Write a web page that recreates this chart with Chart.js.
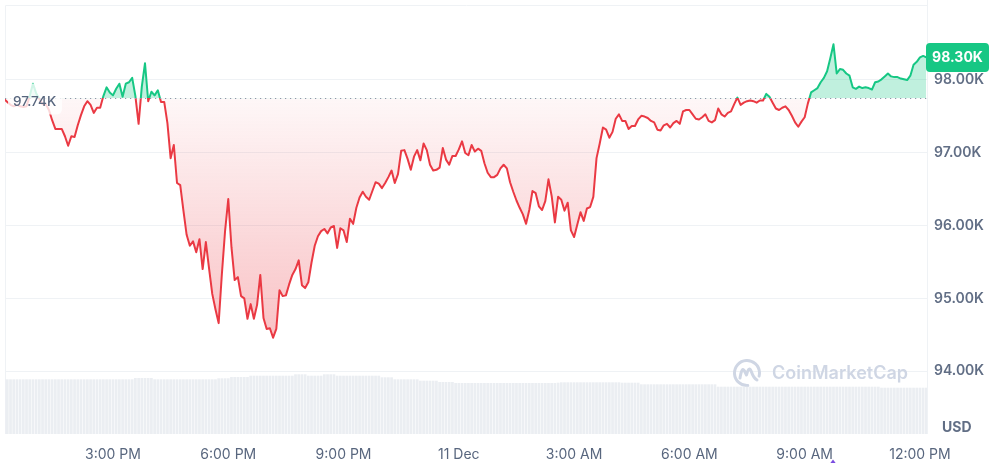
<!DOCTYPE html>
<html><head><meta charset="utf-8">
<script src="https://cdn.jsdelivr.net/npm/chart.js@4.4.1/dist/chart.umd.min.js"></script>
<style>html,body{margin:0;padding:0;background:#fff;overflow:hidden}canvas{display:block}</style>
</head><body>
<canvas id="c" width="994" height="463"></canvas>
<script>
// ---- data (5-minute samples starting 10 Dec 12:10 PM) ----
const intervalMinutes = 5;
const tickMinutes = [170, 350, 530, 710, 890, 1070, 1250, 1430];
const tickLabels = ['3:00 PM', '6:00 PM', '9:00 PM', '11 Dec', '3:00 AM', '6:00 AM', '9:00 AM', '12:00 PM'];
const priceTicks = [94000, 95000, 96000, 97000, 98000];
const openPrice = 97740;
const currencyLabel = 'USD';
const prices = [
97730,97690,97650,97630,97650,97630,97620,97630,97770,97940,
97810,97730,97660,97660,97580,97440,97320,97320,97320,97220,
97090,97220,97210,97370,97510,97630,97700,97650,97540,97610,
97610,97770,97890,97820,97780,97870,97940,97760,97940,97960,
98020,97770,97390,97900,98220,97700,97830,97780,97850,97690,
97690,97400,96920,97100,96580,96550,96200,95870,95720,95780,
95630,95810,95400,95770,95410,95060,94850,94660,95330,95920,
96360,95700,95250,95290,95030,95000,94720,94920,94720,94910,
95320,94730,94580,94590,94460,94580,95110,95030,95040,95190,
95320,95400,95520,95180,95140,95220,95490,95720,95850,95920,
95950,95890,95970,95990,95690,95960,95930,95770,96090,96020,
96240,96380,96460,96390,96350,96470,96590,96570,96510,96580,
96660,96750,96580,96700,97020,97030,96910,96760,96940,97030,
96890,97120,97030,96830,96750,96760,96790,97060,96900,96830,
96950,96950,97040,97150,96990,96960,97100,97010,97050,97020,
96850,96720,96660,96660,96690,96780,96830,96780,96590,96460,
96340,96240,96150,96020,96210,96470,96440,96260,96210,96330,
96630,96400,96040,96390,96350,96200,96310,95930,95840,96010,
96180,96060,96230,96250,96390,96920,97120,97340,97310,97200,
97280,97460,97520,97430,97430,97320,97360,97360,97450,97500,
97490,97470,97430,97410,97310,97300,97370,97390,97340,97400,
97430,97390,97560,97580,97580,97520,97460,97450,97480,97520,
97430,97410,97440,97600,97520,97490,97540,97560,97660,97750,
97650,97680,97700,97710,97700,97680,97710,97710,97800,97760,
97680,97600,97580,97610,97630,97580,97500,97410,97350,97420,
97480,97670,97820,97850,97880,97960,98020,98110,98290,98480,
98080,98140,98130,98080,98050,97890,97870,97900,97880,97890,
97880,97860,97960,97970,98000,98040,98080,98040,98030,98030,
98010,98000,97990,98050,98200,98240,98300,98320,98300
];
// 24h volume, billions USD
const volumes = [
54.7,54.7,54.7,54.7,54.7,54.7,54.7,54.7,54.7,54.7,
54.7,54.7,54.7,54.7,54.7,54.7,54.7,54.7,54.7,54.7,
54.7,54.7,54.7,54.7,54.7,54.7,54.7,54.7,54.7,54.7,
54.7,54.7,54.7,54.7,54.7,54.7,54.7,54.7,54.7,54.7,
54.7,56,56,56,56,56,56,54.7,54.7,54.7,
54.7,54.7,54.7,54.7,54.7,54.7,54.7,54.7,54.7,54.7,
54.7,54.7,54.7,54.7,54.7,54.7,54.7,55.7,55.7,55.7,
55.7,57,57,57,57,57,57,58.3,58.3,58.3,
58.3,58.3,58.3,58.3,58.3,58.3,58.3,58.3,58.3,58.3,
58.3,59.7,59.7,59.7,59.7,58.3,58.3,58.3,58.3,58.3,
59.7,59.7,59.7,59.7,58.3,58.3,58.3,58.3,58.3,58.3,
58.3,58.3,58.3,58.3,58.3,58.3,58.3,58.3,56.7,56.7,
56.7,56.7,54.7,54.7,54.7,54.7,54.7,54.7,54.7,54.7,
53.3,53.3,53.3,53.3,53.3,53.3,52,52,52,52,
52,51,51,51,51,51,51,51,51,51,
51,51,51,51,51,51,51,51,51,51,
51,51,51,51,51,51,51,51,51,51,
51,51,51,51.3,51.7,51.7,51.7,51.7,51.7,51.7,
51.7,51.7,51.7,51.7,51.7,51.7,51.7,51.7,51.7,51.7,
51.7,51.7,51.7,51.3,51.3,51.3,51.3,51.3,51.3,49.7,
49.7,49.7,49.7,49.7,49.7,49.7,49.7,49.7,49.7,49.7,
49.7,49.7,49.7,49.7,49.7,49.7,49.7,49.7,49.7,49.7,
49.7,49.7,49.7,47.3,47.3,47.3,47.3,47.3,47.3,47.3,
47.3,47.3,47.3,47.3,47.3,47.3,47.3,47.3,47.3,47.3,
47.3,47.3,47.3,47.3,47.3,47.3,47.3,47.3,47.3,47.3,
47.3,47.3,47.3,47.3,47.3,47.3,47.3,47.3,47.3,47.3,
47.3,47.3,47.3,47.3,47.3,47.3,47.3,47.3,47.3,47.3,
47.3,47.3,47.3,47.3,46.3,46.3,46.3,46.3,46.3,46.3,
46.3,46.3,46.3,46.3,46.3,46.3,46.3,46.3,46.3
];

// ---- styling ----
const GREEN = '#16c784', RED = '#ea3943';
const TEXT = '#616e85';
const GRID = '#eff2f5';
const fmtK = v => (v / 1000).toFixed(2) + 'K';

const priceData = prices.map((p, i) => ({x: i * intervalMinutes, y: p}));
const volData = volumes.map((v, i) => ({x: i * intervalMinutes, y: v}));

function basePx(chart) { return chart.scales.y.getPixelForValue(openPrice); }
function lineColor(ctx) {
  const chart = ctx.chart, a = chart.chartArea;
  if (!a || !chart.scales.y) return RED;
  const b = basePx(chart);
  const f = Math.min(1, Math.max(0, (b - a.top) / (a.bottom - a.top)));
  const g = chart.ctx.createLinearGradient(0, a.top, 0, a.bottom);
  g.addColorStop(0, GREEN); g.addColorStop(f, GREEN);
  g.addColorStop(f, RED); g.addColorStop(1, RED);
  return g;
}
function belowFill(ctx) {
  const chart = ctx.chart, a = chart.chartArea;
  if (!a || !chart.scales.y) return 'rgba(234,57,67,0.15)';
  const b = basePx(chart);
  const g = chart.ctx.createLinearGradient(0, b, 0, a.bottom);
  g.addColorStop(0, 'rgba(234,57,67,0.04)');
  g.addColorStop(1, 'rgba(234,57,67,0.42)');
  return g;
}
function rrect(ctx, x, y, w, h, r) {
  ctx.beginPath();
  ctx.moveTo(x + r, y); ctx.lineTo(x + w - r, y); ctx.quadraticCurveTo(x + w, y, x + w, y + r);
  ctx.lineTo(x + w, y + h - r); ctx.quadraticCurveTo(x + w, y + h, x + w - r, y + h);
  ctx.lineTo(x + r, y + h); ctx.quadraticCurveTo(x, y + h, x, y + h - r);
  ctx.lineTo(x, y + r); ctx.quadraticCurveTo(x, y, x + r, y); ctx.closePath();
}
const noPad = s => { s.paddingTop = 0; s.paddingBottom = 0; s.paddingLeft = 0; s.paddingRight = 0; };

const decor = {
  id: 'decor',
  beforeDatasetsDraw(chart) {
    const {ctx} = chart, a = chart.chartArea;
    ctx.save();
    ctx.strokeStyle = GRID; ctx.lineWidth = 1;
    ctx.beginPath();
    ctx.moveTo(a.left + 0.5, a.bottom); ctx.lineTo(a.left + 0.5, a.top + 0.5); ctx.lineTo(a.right + 0.5, a.top + 0.5);
    ctx.moveTo(a.right + 0.5, 0); ctx.lineTo(a.right + 0.5, a.bottom);
    ctx.stroke();
    // watermark
    const cx = a.right - 180, cy = a.bottom - 61;
    ctx.strokeStyle = '#cfd6e4'; ctx.lineWidth = 3; ctx.lineCap = 'round'; ctx.lineJoin = 'round';
    ctx.beginPath(); ctx.arc(cx, cy, 12.5, 0.48 * Math.PI, 2.08 * Math.PI); ctx.stroke();
    ctx.beginPath();
    ctx.moveTo(cx - 7, cy + 5);
    ctx.quadraticCurveTo(cx - 5, cy - 7, cx - 2.5, cy - 2);
    ctx.lineTo(cx - 0.5, cy + 2);
    ctx.quadraticCurveTo(cx + 2, cy - 8, cx + 4.5, cy - 1);
    ctx.quadraticCurveTo(cx + 6.5, cy + 5, cx + 10, cy + 7);
    ctx.stroke();
    ctx.fillStyle = '#cfd6e4';
    ctx.font = '600 18px Inter';
    ctx.textAlign = 'left'; ctx.textBaseline = 'middle';
    ctx.fillText('CoinMarketCap', cx + 25, cy + 1);
    ctx.restore();
  },
  afterDatasetsDraw(chart) {
    const {ctx} = chart, a = chart.chartArea;
    const b = Math.round(basePx(chart)) + 0.5;
    ctx.save();
    ctx.strokeStyle = '#8e96aa'; ctx.lineWidth = 1.2; ctx.setLineDash([1.2, 3.8]);
    ctx.beginPath(); ctx.moveTo(a.left, b); ctx.lineTo(a.right, b); ctx.stroke();
    ctx.setLineDash([]);
    ctx.fillStyle = 'rgba(255,255,255,0.8)';
    rrect(ctx, a.left + 3, b - 15, 54, 31, 6); ctx.fill();
    ctx.fillStyle = '#58667e';
    ctx.font = '500 13.5px Inter';
    ctx.textAlign = 'left'; ctx.textBaseline = 'middle';
    ctx.fillText(fmtK(openPrice), a.left + 8, b + 3);
    ctx.restore();
  },
  afterDraw(chart) {
    const {ctx} = chart, a = chart.chartArea;
    const last = prices[prices.length - 1];
    const ly = chart.scales.y.getPixelForValue(last);
    ctx.save();
    ctx.fillStyle = GREEN;
    rrect(ctx, a.right - 1, ly - 14.5, 63, 29, 4); ctx.fill();
    ctx.fillStyle = '#ffffff';
    ctx.font = '700 14px Inter';
    ctx.textAlign = 'center'; ctx.textBaseline = 'middle';
    ctx.fillText(fmtK(last), a.right + 30.5, ly + 0.5);
    ctx.fillStyle = TEXT;
    ctx.textAlign = 'left';
    ctx.fillText(currencyLabel, a.right + 15, a.bottom - 6);
    // event marker
    ctx.fillStyle = '#7b4ce0';
    ctx.beginPath(); ctx.moveTo(830, 463.5); ctx.lineTo(836, 463.5); ctx.lineTo(833, 459.5); ctx.closePath(); ctx.fill();
    ctx.restore();
  }
};

new Chart(document.getElementById('c'), {
  type: 'line',
  data: {
    datasets: [
      {
        type: 'bar', data: volData, yAxisID: 'yv', order: 2,
        backgroundColor: '#ebeef2', barPercentage: 0.85, categoryPercentage: 1, borderWidth: 0
      },
      {
        type: 'line', data: priceData, yAxisID: 'y', order: 1,
        borderColor: lineColor, backgroundColor: belowFill, borderWidth: 2,
        pointRadius: 0, tension: 0, borderJoinStyle: 'round', borderCapStyle: 'round',
        fill: {target: {value: openPrice}, above: 'rgba(22,199,132,0.27)'}
      }
    ]
  },
  options: {
    responsive: false, animation: false, devicePixelRatio: 1,
    layout: {padding: {left: 5, top: 5, right: 0, bottom: 0}},
    plugins: {legend: {display: false}, tooltip: {enabled: false}},
    scales: {
      x: {
        type: 'linear', min: 1.4, max: 1441, offset: false,
        grid: {display: false, drawTicks: false}, border: {display: false},
        afterBuildTicks: s => { s.ticks = tickMinutes.map(v => ({value: v})); },
        afterFit: s => { s.height = 29; noPad(s); },
        ticks: {
          autoSkip: false, maxRotation: 0, padding: 12, color: '#58667e',
          font: {family: 'Inter', size: 14, weight: '400'},
          callback: (v, i) => tickLabels[i]
        }
      },
      y: {
        position: 'right', min: 93141, max: 99018,
        grid: {color: GRID, drawTicks: false}, border: {display: false},
        afterBuildTicks: s => { s.ticks = priceTicks.map(v => ({value: v})); },
        afterFit: s => { s.width = 67; noPad(s); },
        ticks: {
          padding: 7, color: TEXT,
          font: {family: 'Inter', size: 14, weight: '600'},
          callback: v => fmtK(v)
        }
      },
      yv: {display: false, min: 0, max: 429}
    }
  },
  plugins: [decor]
});
</script>
</body></html>
